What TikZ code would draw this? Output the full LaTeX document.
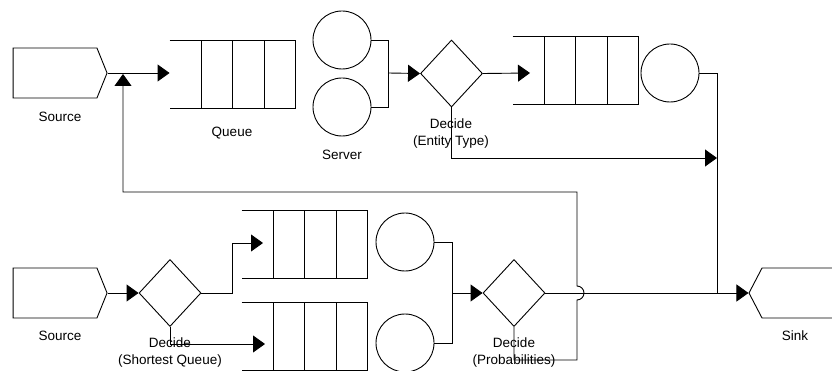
\documentclass[tikz,border=0pt]{standalone}
\usepackage{fontspec}
\setmainfont{Liberation Sans}
\usetikzlibrary{positioning,arrows.meta,shapes.geometric,shapes.symbols,calc}
\tikzset {
    style S/.style={
        draw=black,
        line width=0.9pt,
        shape=signal, % pentagon with a point
        signal to=east,
        signal pointer angle=136,
        minimum width=94pt,
        minimum height=50pt,
        inner sep=0pt,
    },
    style Q/.style={
        rectangle, % lines are drawn below
        minimum width=125pt,
        minimum height=67pt,
        inner sep=0pt,
    },
    style C/.style={
        draw=black,
        line width=0.9pt,
        circle,
        minimum size=58pt,
        inner sep=0pt,
    },
    style D/.style={
        draw=black,
        line width=0.9pt,
        diamond,
        minimum width=62pt,
        minimum height=67pt,
        inner sep=0pt,
    },
    style L/.style={
        align=center,
        font=\fontsize{13.5}{17}\selectfont,
        inner sep=0pt,
    },
}
\begin{document}
\begin{tikzpicture}
[x=1pt, y=-1pt, line width=0.9pt, >={Triangle[length=12pt,width=17pt]}]
\useasboundingbox (0,0) rectangle (832,371);
\clip (0,0) rectangle (832,371);

% upper line
\node[style S] at (55,73) (src1) {};
\node[style L] at (60,117) (src1lab) {Source};
\node[style Q] at (232.5,74.5) (q1) {};
\node[style L] at (232,133) (q1lab) {Queue};
\node[style C] at (342,40) (srv1) {};
\node[style C] at (342,107) (srv2) {};
\node[style L] at (342,155) (srvlab) {Server};
\node[style D] at (451.5,73.5) (dec1) {};
\node[style L] at (451,133.5) (dec1lab) {Decide\\(Entity Type)};
\node[style Q] at (575.5,70.5) (q2) {};
\node[style C] at (670,73) (srv3) {};

% lower line
\node[style S] at (55,293) (src2) {};
\node[style L] at (60,336) (src2lab) {Source};
\node[style D] at (170,293) (dec2) {};
\node[style L] at (170,353) (dec2lab) {Decide\\(Shortest Queue)};
\node[style Q] at (304.5,244.5) (q3) {};
\node[style Q] at (304.5,336.5) (q4) {};
\node[style C] at (405,242) (srv4) {};
\node[style C] at (405,343) (srv5) {};
\node[style D] at (514,293) (dec3) {};
\node[style L] at (514,353) (dec3lab) {Decide\\(Probabilities)};
\node[style S, signal to=west, signal pointer angle=125, minimum width=110pt] at (810.5,293) (sink) {};
\node[style L] at (795,336) (sinklab) {Sink};

% queues: open on the left, three cells
\foreach \q in {q1,q2,q3,q4} {
    \draw (\q.north west) -- (\q.north east) -- (\q.south east) -- (\q.south west);
    \foreach \f in {0.25,0.5,0.75}
        \draw ($(\q.north west)!\f!(\q.north east)$) -- ($(\q.south west)!\f!(\q.south east)$);
}

\coordinate (j1) at (388,73);
\coordinate (j2) at (717,158);
\coordinate (j3) at (717,293);
\coordinate (j4) at (452,293);
\coordinate (q2in) at (530,73);
\coordinate (q3in) at (263,243);
\coordinate (q4in) at (265,344);
\coordinate (fb1) at (577,360);
\coordinate (fb2) at (577,192);
\coordinate (back) at (123,74);

\draw[->] (src1.east) -- (src1.east -| q1.west);
\draw (srv1.east) -| (j1);
\draw (srv2.east) -| (j1);
\draw[->] (j1) -- (dec1.west);
\draw[->] (dec1.east) -- (q2in);
\draw[->] (dec1.south) |- (j2);
\draw (srv3.east) -| (j3);
\draw[->] (src2.east) -- (dec2.west);
\draw[->] (dec2.east) -- ++(31,0) |- (q3in);
\draw[->] (dec2.south) |- (q4in);
\draw (srv4.east) -| (j4);
\draw (srv5.east) -| (j4);
\draw[->] (j4) -- (dec3.west);
\draw[->] (dec3.east) -- (sink.west);
% back to the first source, jumping over the main line
\draw[->] (dec3.south) |- (fb1) -- (577,300) arc[start angle=-90, end angle=90, radius=7pt] -- (fb2) -| (back);
\end{tikzpicture}
\end{document}
